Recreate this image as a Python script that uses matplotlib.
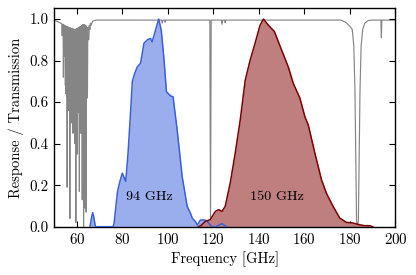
import matplotlib
matplotlib.use("Agg")
import matplotlib.pyplot as plt

plt.rcParams['font.family'] = ['cmr10', 'DejaVu Serif']
plt.rcParams['mathtext.fontset'] = 'cm'
plt.rcParams['axes.formatter.use_mathtext'] = True
plt.rcParams['axes.unicode_minus'] = False

# ---- 94 GHz band response ----
band94_freq = [65.8, 66.6, 67.0, 67.4, 68.2, 76.0, 76.4, 77.9, 79.0, 80.0, 81.5, 82.5, 83.7, 84.4,
               85.5, 86.6, 88.0, 89.5, 91.0, 92.4, 93.1, 94.6, 96.0, 97.1, 98.2, 99.4, 101.2,
               102.3, 104.1, 106.3, 108.5, 109.9, 110.8, 112.1, 113.0, 114.3, 115.7, 117.2,
               118.3, 119.4, 121.0, 122.5, 123.8, 125.0, 126.0]
band94_resp = [0.0, 0.05, 0.068, 0.05, 0.0, 0.0, 0.017, 0.17, 0.22, 0.258, 0.218, 0.35, 0.563, 0.70,
               0.74, 0.77, 0.786, 0.883, 0.90, 0.907, 0.89, 0.947, 1.0, 0.947, 0.82, 0.65, 0.63,
               0.626, 0.466, 0.242, 0.098, 0.066, 0.04, 0.025, 0.008, 0.032, 0.033, 0.028,
               0.012, 0.0, 0.0, 0.008, 0.015, 0.005, 0.0]

# ---- 150 GHz band response ----
band150_freq = [113.5, 114.5, 116.5, 118.6, 120.9, 122.3, 123.8, 125.2, 127.4, 129.6, 131.8, 134.0,
                136.1, 138.3, 140.5, 142.0, 144.2, 146.8, 150.0, 152.9, 155.1, 158.0, 160.2,
                161.7, 164.6, 167.5, 169.7, 172.6, 175.5, 178.4, 181.3, 184.0, 186.4, 188.6, 190.0]
band150_resp = [0.0, 0.005, 0.026, 0.034, 0.074, 0.082, 0.074, 0.098, 0.21, 0.354, 0.514, 0.706,
                 0.80, 0.883, 0.97, 1.0, 0.97, 0.94, 0.85, 0.77, 0.69, 0.62, 0.53,
                 0.49, 0.354, 0.226, 0.16, 0.098, 0.042, 0.021, 0.018, 0.01, 0.005, 0.005, 0.0]

# ---- atmospheric transmission ----
trans_freq = [50.0, 51.0, 52.0, 53.0, 53.4, 53.6, 53.8, 54.0, 54.13, 54.3, 54.5, 54.67, 54.8,
              55.0, 55.1, 55.22, 55.3, 55.4, 55.5, 55.6, 55.7, 55.78, 55.9, 56.0, 56.1, 56.2,
              56.28, 56.36, 56.45, 56.55, 56.65, 56.75, 56.85, 56.97, 57.05, 57.15, 57.25, 57.35,
              57.5, 57.61, 57.7, 57.8, 57.9, 58.0, 58.08, 58.15, 58.23, 58.32, 58.38, 58.45,
              58.55, 58.65, 58.75, 58.85, 58.93, 59.0, 59.08, 59.16, 59.25, 59.35, 59.47, 59.59,
              59.7, 59.8, 59.9, 60.0, 60.08, 60.15, 60.23, 60.31, 60.37, 60.43, 60.5, 60.6,
              60.7, 60.8, 60.9, 61.0, 61.08, 61.15, 61.22, 61.3, 61.4, 61.5, 61.65, 61.8,
              61.9, 62.0, 62.1, 62.2, 62.3, 62.41, 62.5, 62.6, 62.7, 62.8, 62.9, 62.99, 63.1,
              63.2, 63.3, 63.4, 63.48, 63.57, 63.68, 63.8, 63.95, 64.13, 64.25, 64.4, 64.55,
              64.68, 64.85, 65.0, 65.1, 65.22, 65.5, 65.76, 66.0, 66.3, 67.0, 68.5,
              97.2, 97.5, 97.8, 98.6, 98.8, 99.0,
              118.45, 118.65, 118.75, 118.85, 119.05,
              123.5, 123.8, 124.1, 125.0, 125.2, 125.4,
              176.0, 178.0, 180.0, 181.0, 181.7, 182.2, 182.6, 182.9, 183.3, 183.7, 184.0,
              184.4, 184.9, 185.6, 186.5, 188.0, 190.0,
              193.6, 193.8, 194.0, 200.0]
trans_val = [0.995, 0.99, 0.985, 0.98, 0.978, 0.92, 0.975, 0.975, 0.72, 0.972, 0.97, 0.82, 0.968,
             0.68, 0.966, 0.64, 0.965, 0.66, 0.964, 0.63, 0.963, 0.19, 0.962, 0.62, 0.961, 0.58,
             0.96, 0.56, 0.96, 0.60, 0.959, 0.58, 0.958, 0.04, 0.957, 0.57, 0.956, 0.60,
             0.955, 0.50, 0.955, 0.58, 0.954, 0.56, 0.953, 0.60, 0.952, 0.45, 0.952, 0.56,
             0.951, 0.58, 0.95, 0.55, 0.95, 0.57, 0.95, 0.40, 0.95, 0.56, 0.95, 0.02,
             0.951, 0.57, 0.952, 0.55, 0.953, 0.58, 0.954, 0.35, 0.955, 0.56, 0.956, 0.58,
             0.957, 0.55, 0.958, 0.57, 0.96, 0.17, 0.961, 0.58, 0.962, 0.56, 0.964, 0.45,
             0.965, 0.58, 0.967, 0.57, 0.968, 0.13, 0.97, 0.58, 0.972, 0.60, 0.973, 0.0, 0.974,
             0.62, 0.974, 0.64, 0.972, 0.09, 0.97, 0.68, 0.968, 0.07, 0.965, 0.75, 0.96,
             0.62, 0.955, 0.94, 0.96, 0.90, 0.97, 0.95, 0.98, 0.97, 0.99, 0.995,
             0.995, 0.98, 0.995, 0.995, 0.985, 0.995,
             0.995, 0.3, 0.0, 0.3, 0.995,
             0.995, 0.975, 0.995, 0.995, 0.982, 0.995,
             0.995, 0.985, 0.965, 0.95, 0.87, 0.65, 0.3, 0.03, 0.0, 0.03, 0.3,
             0.65, 0.87, 0.95, 0.98, 0.993, 0.995,
             0.995, 0.91, 0.995, 0.995]

labels = ['94 GHz', '150 GHz']
label_freq = [92.0, 148.0]
label_y = [0.145, 0.145]

fig = plt.figure(figsize=(4.16, 2.75), dpi=100)
ax = fig.add_axes([0.1298, 0.1756, 0.8209, 0.7944])

ax.plot(trans_freq, trans_val, color='#858585', lw=0.85, zorder=1)

ax.fill_between(band94_freq, band94_resp, 0, color='#9aaeee', lw=0, zorder=2)
ax.plot(band94_freq, band94_resp, color='#3a5fd6', lw=1.1, zorder=3)
ax.fill_between(band150_freq, band150_resp, 0, color='#bf7f7f', lw=0, zorder=2)
ax.plot(band150_freq, band150_resp, color='#7a0000', lw=1.1, zorder=3)

for t, x, y in zip(labels, label_freq, label_y):
    ax.text(x, y, t, ha='center', va='center', fontsize=10.2, zorder=4)

ax.set_xlim(50, 200)
ax.set_ylim(0, 1.052)
ax.set_xticks([60, 80, 100, 120, 140, 160, 180, 200])
ax.set_yticks([0.0, 0.2, 0.4, 0.6, 0.8, 1.0])
ax.set_yticklabels(['0.0', '0.2', '0.4', '0.6', '0.8', '1.0'])
ax.tick_params(direction='in', top=True, right=True, labelsize=10.8, length=4, width=0.8, pad=4)
for s in ax.spines.values():
    s.set_linewidth(1.0)
ax.set_xlabel('Frequency [GHz]', fontsize=10.5, labelpad=3)
ax.set_ylabel('Response / Transmission', fontsize=10.5, labelpad=3.5)

fig.savefig('out.png', dpi=100)
